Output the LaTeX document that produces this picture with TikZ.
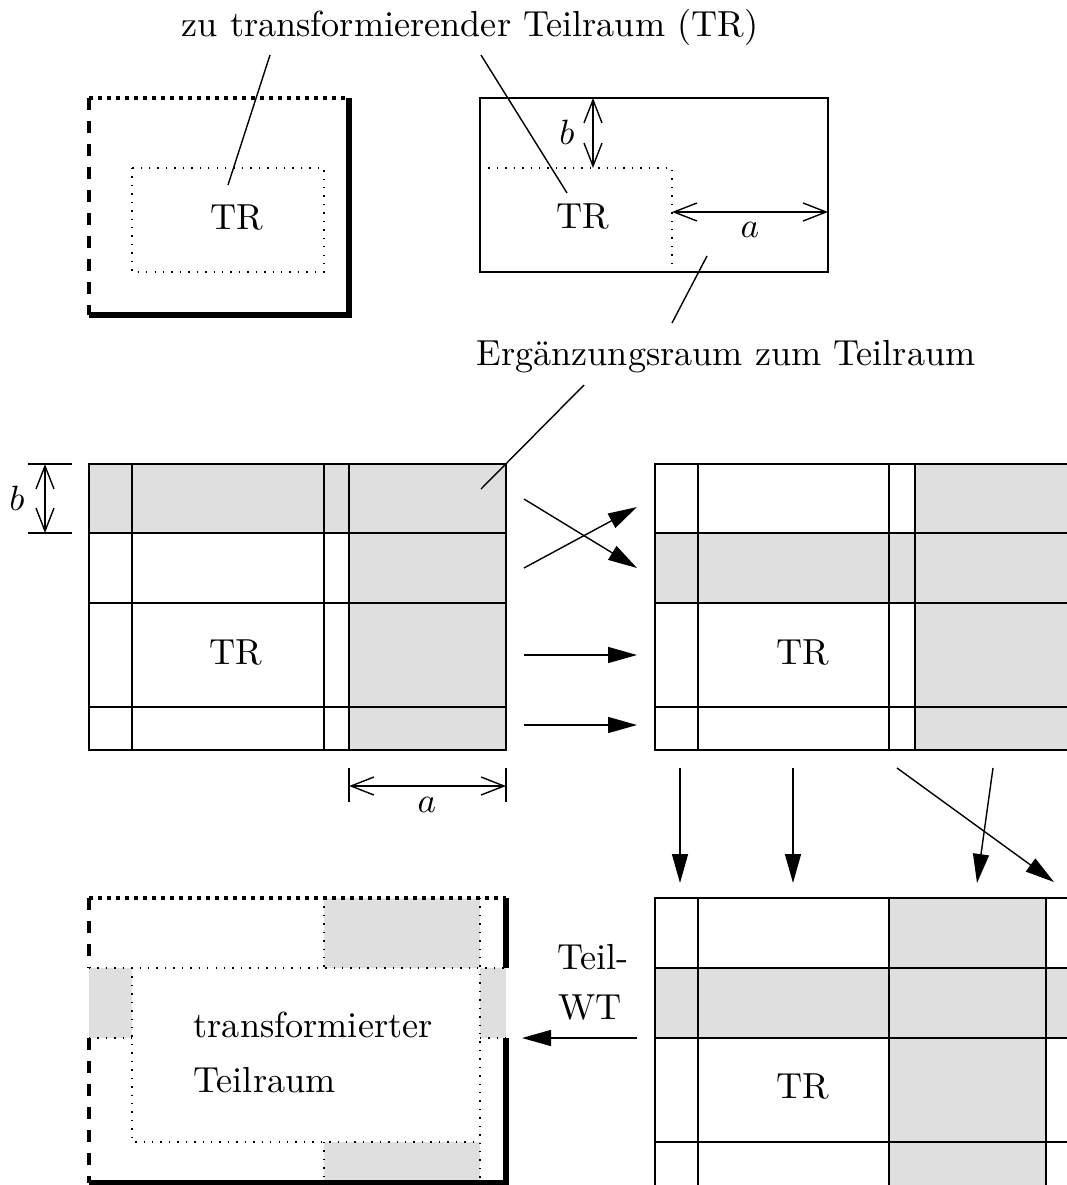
\documentclass[tikz,border=0pt]{standalone}
\usepackage{fontspec}
\usetikzlibrary{arrows.meta}

\definecolor{ergrau}{gray}{0.875}

\tikzset{
  pfeil/.style={thin, -{Triangle[length=2.9mm,width=1.6mm]}},
  mass/.style={thin, {Straight Barb[length=2.3mm,width=1.8mm]}-{Straight Barb[length=2.3mm,width=1.8mm]}},
  gitter/.style={line width=0.6pt},
  randpunkt/.style={line width=1.1pt, dash pattern=on 0.35mm off 0.55mm},
  randstrich/.style={line width=1.15pt, dash pattern=on 1.2mm off 1.1mm},
  randvoll/.style={line width=1.45pt},
  trpunkt/.style={thin, dotted},
}

\begin{document}
\begin{tikzpicture}[x=0.1mm, y=-0.1mm, font=\fontsize{10.3}{12.4}\selectfont, line cap=butt]
\useasboundingbox (0,0) rectangle (1067,1185);
\clip (0,0) rectangle (1067,1185);

% --- oben links: Raum mit Teilraum ---
\draw[randpunkt] (89,98) -- (349,98);
\draw[randstrich] (89,98) -- (89,315);
\draw[randvoll] (89,315) -- (349,315) -- (349,98);
\draw[trpunkt] (132,168) rectangle (324,272);
\node (trA) at (237,218) {TR};

% --- oben rechts: Teilraum am Rand ---
\draw[thin] (480,98) rectangle (828,272);
\draw[trpunkt] (480,168) -- (672,168) -- (672,272);
\coordinate (bO) at (593,98);
\coordinate (bU) at (593,168);
\draw[mass] (bO) -- (bU);
\node (bB) at (567,132) {$b$};
\coordinate (aL) at (672,212);
\coordinate (aR) at (828,212);
\draw[mass] (aL) -- (aR);
\node (aB) at (750,230) {$a$};
\node (trB) at (583,217) {TR};

% --- Mitte links: Zerlegung ---
\fill[ergrau] (89,464) rectangle (506,533);
\fill[ergrau] (349,464) rectangle (506,750);
\draw[gitter] (89,464) rectangle (506,750);
\draw[gitter] (132,464) -- (132,750);
\draw[gitter] (324,464) -- (324,750);
\draw[gitter] (349,464) -- (349,750);
\draw[gitter] (89,533) -- (506,533);
\draw[gitter] (89,603) -- (506,603);
\draw[gitter] (89,707) -- (506,707);
\node (trC) at (236,653) {TR};
% Masse b und a
\draw[thin] (28,464) -- (72,464);
\draw[thin] (28,533) -- (72,533);
\coordinate (mbO) at (45,464);
\coordinate (mbU) at (45,533);
\draw[mass] (mbO) -- (mbU);
\node (mbB) at (17,498) {$b$};
\draw[thin] (349,768) -- (349,802);
\draw[thin] (506,768) -- (506,802);
\coordinate (maL) at (349,786);
\coordinate (maR) at (506,786);
\draw[mass] (maL) -- (maR);
\node (maB) at (427,805) {$a$};

% --- Beschriftungen ---
\node (titel) at (470,27) {zu transformierender Teilraum (TR)};
\node (erg) at (726,357) {Ergänzungsraum zum Teilraum};
\coordinate (lA) at (270,55);
\coordinate (lAe) at (228,185);
\coordinate (lB) at (481,55);
\coordinate (lBe) at (567,193);
\coordinate (lC) at (672,323);
\coordinate (lCe) at (707,256);
\coordinate (lD) at (584,385);
\coordinate (lDe) at (481,489);
\draw[thin] (lA) -- (lAe);
\draw[thin] (lB) -- (lBe);
\draw[thin] (lC) -- (lCe);
\draw[thin] (lD) -- (lDe);

% --- Pfeile: Zeilen tauschen ---
\coordinate (p1) at (524,499);
\coordinate (p1e) at (637,568);
\coordinate (p2) at (524,568);
\coordinate (p2e) at (637,507);
\coordinate (p3) at (524,655);
\coordinate (p3e) at (637,655);
\coordinate (p4) at (524,725);
\coordinate (p4e) at (637,725);
\draw[pfeil] (p1) -- (p1e);
\draw[pfeil] (p2) -- (p2e);
\draw[pfeil] (p3) -- (p3e);
\draw[pfeil] (p4) -- (p4e);

% --- Mitte rechts ---
\fill[ergrau] (655,533) rectangle (1072,603);
\fill[ergrau] (915,464) rectangle (1072,750);
\draw[gitter] (655,464) rectangle (1072,750);
\draw[gitter] (698,464) -- (698,750);
\draw[gitter] (889,464) -- (889,750);
\draw[gitter] (915,464) -- (915,750);
\draw[gitter] (655,533) -- (1072,533);
\draw[gitter] (655,603) -- (1072,603);
\draw[gitter] (655,707) -- (1072,707);
\node (trD) at (803,653) {TR};

% --- Pfeile: Spalten tauschen ---
\coordinate (s1) at (680,768);
\coordinate (s1e) at (680,883);
\coordinate (s2) at (793,768);
\coordinate (s2e) at (793,883);
\coordinate (s3) at (993,768);
\coordinate (s3e) at (977,883);
\coordinate (s4) at (897,768);
\coordinate (s4e) at (1054,882);
\draw[pfeil] (s1) -- (s1e);
\draw[pfeil] (s2) -- (s2e);
\draw[pfeil] (s3) -- (s3e);
\draw[pfeil] (s4) -- (s4e);

% --- unten rechts ---
\fill[ergrau] (655,968) rectangle (1072,1038);
\fill[ergrau] (889,898) rectangle (1046,1190);
\draw[gitter] (655,898) rectangle (1072,1190);
\draw[gitter] (698,898) -- (698,1190);
\draw[gitter] (889,898) -- (889,1190);
\draw[gitter] (1046,898) -- (1046,1190);
\draw[gitter] (655,968) -- (1072,968);
\draw[gitter] (655,1038) -- (1072,1038);
\draw[gitter] (655,1142) -- (1072,1142);
\node (trE) at (803,1087) {TR};

% --- Teil-WT ---
\coordinate (w1) at (637,1038);
\coordinate (w1e) at (522,1038);
\draw[pfeil] (w1) -- (w1e);
\node (teil) at (593,957) {Teil-};
\node (wt) at (590,1008) {WT};

% --- unten links: transformierter Teilraum ---
\fill[ergrau] (324,898) rectangle (480,968);
\fill[ergrau] (89,968) rectangle (132,1038);
\fill[ergrau] (480,968) rectangle (506,1038);
\fill[ergrau] (324,1142) rectangle (480,1190);
\draw[trpunkt] (89,968) -- (506,968);
\draw[trpunkt] (89,1038) -- (132,1038);
\draw[trpunkt] (480,1038) -- (506,1038);
\draw[trpunkt] (132,968) -- (132,1142) -- (480,1142);
\draw[trpunkt] (480,898) -- (480,1190);
\draw[trpunkt] (324,898) -- (324,968);
\draw[trpunkt] (324,1142) -- (324,1190);
\draw[randpunkt] (89,898) -- (506,898);
\draw[randstrich] (89,898) -- (89,968);
\draw[randstrich] (89,1038) -- (89,1183);
\draw[randvoll] (506,898) -- (506,968);
\draw[randvoll] (506,1038) -- (506,1183) -- (89,1183);
\node[inner sep=0pt, anchor=base west] (tt1) at (193,1037) {transformierter};
\node[inner sep=0pt, anchor=base west] (tt2) at (193,1092) {Teilraum};

\end{tikzpicture}
\end{document}
